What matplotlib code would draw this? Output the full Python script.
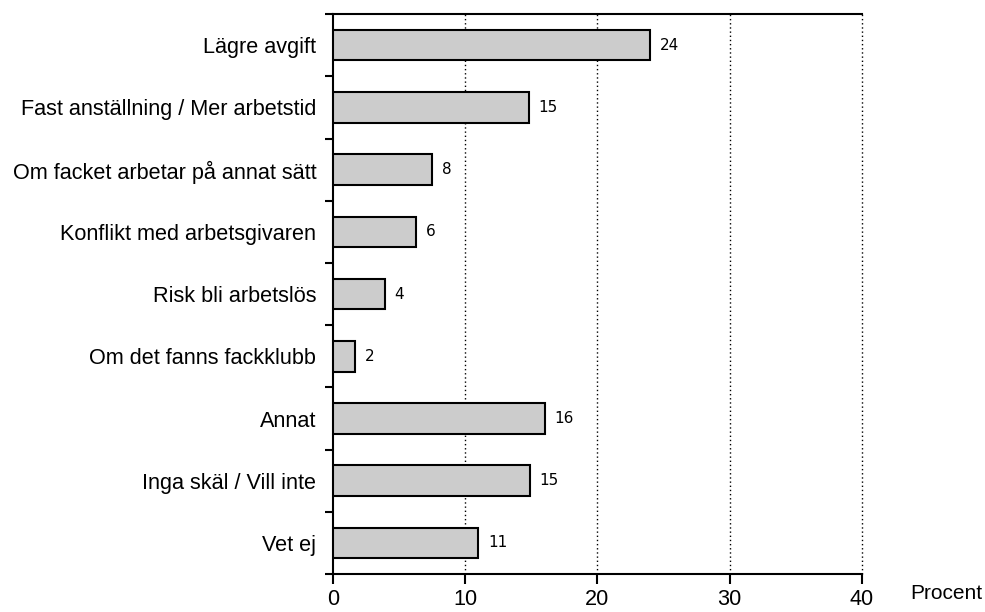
import matplotlib.pyplot as plt

categories = ["Lägre avgift", "Fast anställning / Mer arbetstid",
              "Om facket arbetar på annat sätt", "Konflikt med arbetsgivaren",
              "Risk bli arbetslös", "Om det fanns fackklubb", "Annat",
              "Inga skäl / Vill inte", "Vet ej"]
values = [24.0, 14.8, 7.5, 6.3, 3.9, 1.7, 16.0, 14.9, 11.0]
value_labels = ["24", "15", "8", "6", "4", "2", "16", "15", "11"]
xticks = [0, 10, 20, 30, 40]

plt.rcParams['font.family'] = ['Liberation Sans', 'DejaVu Sans']

fig = plt.figure(figsize=(9.85, 6.12), dpi=100)
ax = fig.add_axes([0.338, 0.062, 0.537, 0.915])

n = len(categories)
ypos = list(range(n))
ax.barh(ypos, values, height=0.49, color="#cccccc", edgecolor="black", linewidth=1.5, zorder=3)
for y, v, lab in zip(ypos, values, value_labels):
    ax.annotate(lab, (v, y), xytext=(7, 0), textcoords="offset points",
                va="center", ha="left", fontsize=11, family="DejaVu Sans")

ax.set_ylim(n - 0.5, -0.5)
ax.set_xlim(0, 40)
ax.set_yticks(ypos)
ax.set_yticklabels(categories, fontsize=15.6)
ax.tick_params(axis="y", which="major", length=0, pad=12)
ax.set_yticks([i - 0.5 for i in range(n + 1)], minor=True)
ax.tick_params(axis="y", which="minor", length=6, width=1.5, direction="out")

ax.set_xticks(xticks)
ax.set_xticklabels([str(t) for t in xticks], fontsize=15.6)
ax.tick_params(axis="x", length=7, width=1.5, direction="out", pad=4)

for t in xticks[1:]:
    ax.axvline(t, color="black", linestyle=(0, (1, 2)), linewidth=1, zorder=1, clip_on=False)

ax.spines["right"].set_visible(False)
for s in ["left", "bottom", "top"]:
    ax.spines[s].set_linewidth(1.5)

fig.text(0.924, 0.03, "Procent", fontsize=15, ha="left", va="center")

fig.savefig("out.png", dpi=100)
